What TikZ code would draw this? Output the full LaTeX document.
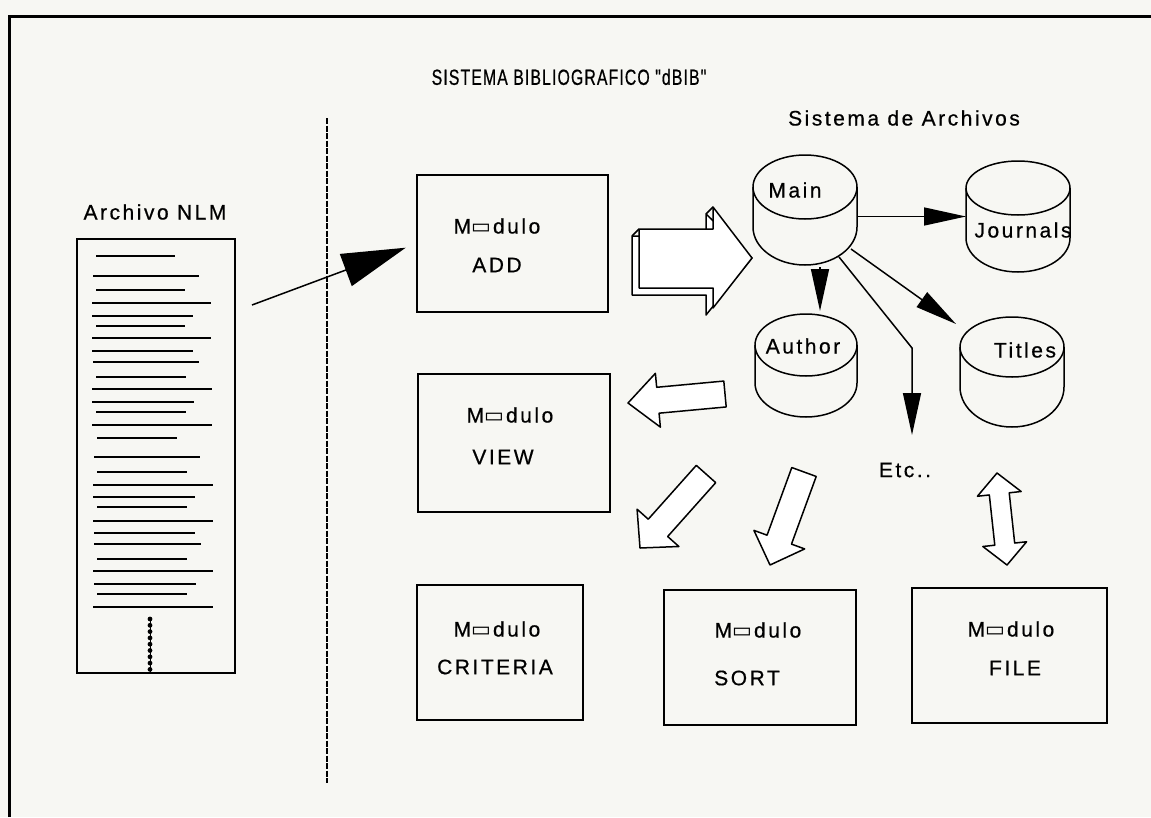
\documentclass[tikz,border=0pt]{standalone}
\usepackage{fontspec}
\setmainfont{Liberation Sans}[LetterSpace=12, FakeBold=0.6]
\newfontfamily\titlefont{Liberation Sans}[FakeStretch=0.72, LetterSpace=5, FakeBold=0.6]
\newfontfamily\dvfont{DejaVu Sans}
\usetikzlibrary{arrows.meta,calc}
\definecolor{paper}{RGB}{247,247,243}
\newcommand\Mo{M{\dvfont\symbol{"25AD}}\hspace{2pt}dulo}
\tikzset{
  shp/.style={line width=1.5pt, line join=round},
  boxnode/.style={draw, line width=1.6pt, inner sep=0pt, outer sep=0pt},
  lbl/.style={inner sep=0pt, font=\fontsize{21}{23}\selectfont},
  conn/.style={line width=1.5pt, -{Triangle[length=42pt,width=18pt]}},
  txtline/.style={line width=2.2pt},
  hollow/.style={shp, fill=white}
}
\newcommand\drawcyl[7]{%
  \pgfmathsetmacro\cyW{2*#5}\pgfmathsetmacro\cyH{#4-#3}\pgfmathsetmacro\cyM{(#3+#4)/2}%
  \node[inner sep=0pt,outer sep=0pt,minimum width=\cyW pt,minimum height=\cyH pt] (#1) at (#2,\cyM) {};
  \pgfmathsetmacro\cyA{#3+#6}\pgfmathsetmacro\cyB{#4-#7}%
  \draw[shp] (#2,\cyA) ellipse[x radius=#5, y radius=#6];
  \draw[shp] (#2-#5,\cyA) -- (#2-#5,\cyB) arc[start angle=180,end angle=0,x radius=#5,y radius=#7] -- (#2+#5,\cyA);
}
\newcommand\harrow[5]{%
  \coordinate (hB) at ($(#2)!#5!(#1)$);
  \draw[hollow] ($(#1)!#3!90:(#2)$) -- ($(hB)!#3!90:(#2)$) -- ($(hB)!#4!90:(#2)$) -- (#2)
    -- ($(hB)!#4!-90:(#2)$) -- ($(hB)!#3!-90:(#2)$) -- ($(#1)!#3!-90:(#2)$) -- cycle;
}
\newcommand\darrow[5]{%
  \coordinate (dB1) at ($(#1)!#5!(#2)$);
  \coordinate (dB2) at ($(#2)!#5!(#1)$);
  \draw[hollow] (#1) -- ($(dB1)!#4!90:(#2)$) -- ($(dB1)!#3!90:(#2)$) -- ($(dB2)!#3!-90:(#1)$)
    -- ($(dB2)!#4!-90:(#1)$) -- (#2) -- ($(dB2)!#4!90:(#1)$) -- ($(dB2)!#3!90:(#1)$)
    -- ($(dB1)!#3!-90:(#2)$) -- ($(dB1)!#4!-90:(#2)$) -- cycle;
}
\begin{document}
\begin{tikzpicture}[x=1pt,y=-1pt]
\useasboundingbox (0,0) rectangle (1151,817);
\fill[paper] (0,0) rectangle (1151,817);
% frame
\draw[line width=3pt] (9,817) -- (9,16) -- (1151,16);
% dashed divider
\draw[line width=1.5pt, dash pattern=on 6pt off 1.5pt] (327,118) -- (327,783);

% titles
\node[inner sep=0pt, font=\titlefont\fontsize{22}{24}\selectfont] (title) at (569,77) {SISTEMA BIBLIOGRAFICO "dBIB"};
\node[lbl] (sarch) at (904,118) {Sistema de Archivos};
\node[lbl] (anlm) at (155,212) {Archivo NLM};

% NLM file
\node[boxnode, minimum width=158pt, minimum height=434pt] (nlm) at (156,456) {};
\foreach \yy/\xa/\xb in {256/96/175, 276/93/199, 290/96/185, 303/92/211, 316/92/193, 326/96/185,
  338/92/211, 351/92/193, 362/93/199, 377/96/186, 389/92/212, 402/92/194, 412/96/186, 425/92/212,
  438/97/177, 457/94/200, 472/97/187, 485/93/213, 497/93/195, 507/97/187, 521/93/213, 533/94/195,
  544/94/201, 559/97/187, 571/93/213, 584/94/196, 594/97/187, 607/93/213}
  \draw[txtline] (\xa,\yy) -- (\xb,\yy);
\draw[line width=1pt] (150,618) -- (nlm.south -| 150,0);
\foreach \k in {0,...,8} \fill (150,{619+6.3*\k}) circle[radius=2.4pt];

% modules
\node[boxnode, minimum width=191pt, minimum height=137pt] (add) at (512.5,243.5) {};
\node[boxnode, minimum width=192pt, minimum height=138pt] (view) at (514,443) {};
\node[boxnode, minimum width=166pt, minimum height=135pt] (crit) at (500,652.5) {};
\node[boxnode, minimum width=192pt, minimum height=135pt] (sort) at (760,657.5) {};
\node[boxnode, minimum width=195pt, minimum height=135pt] (file) at (1009.5,655.5) {};

\node[lbl] (addm) at (497,226) {\Mo};
\node[lbl] (addn) at (497,265) {ADD};
\node[lbl] (viewm) at (510,415) {\Mo};
\node[lbl] (viewn) at (503,457) {VIEW};
\node[lbl] (critm) at (497,629) {\Mo};
\node[lbl] (critn) at (495,667) {CRITERIA};
\node[lbl] (sortm) at (758,630) {\Mo};
\node[lbl] (sortn) at (747,678) {SORT};
\node[lbl] (filem) at (1011,629) {\Mo};
\node[lbl] (filen) at (1015,668) {FILE};

% NLM -> ADD
\coordinate (nlmout) at (252,305);
\draw[line width=1.5pt, -{Triangle[length=64pt,width=34pt]}, shorten >=12pt] (nlmout) -- (add.west);

% 3D arrow ADD -> Main
\draw[hollow] (632,236) -- (706,236) -- (706,214) -- (752,258) -- (706,315) -- (706,295) -- (632,295) -- cycle;
\draw[hollow] (639,229) -- (713,229) -- (713,207) -- (752,258) -- (713,308) -- (713,288) -- (639,288) -- cycle;
\draw[shp] (639,229) -- (632,236);
\draw[shp] (713,207) -- (706,214);

% cylinders
\drawcyl{main}{805}{155}{265}{52}{32}{38}
\drawcyl{jour}{1018}{161}{272}{52}{27}{34}
\drawcyl{auth}{806}{314}{417}{51}{31}{34}
\drawcyl{titl}{1012}{317}{427}{52}{30}{40}
\node[lbl] (mainl) at (795,190) {Main};
\node[lbl] (jourl) at (1023,230) {Journals};
\node[lbl] (authl) at (803,346) {Author};
\node[lbl] (titll) at (1025,350) {Titles};
\node[lbl] (etc) at (905,470) {Etc..};

% connectors from Main
\draw[conn] (main.east |- jour.west) -- (jour.west);
\draw[conn] ($(main.south)+(15,2)$) -- ($(auth.north)+(14,-3)$);
\draw[conn] ($(main.south east)+(-6,-16)$) -- ($(titl.north west)+(-4,7)$);
\coordinate (etcbend) at (912,348);
\coordinate (etcend) at (912,435);
\draw[conn] ($(main.south)+(34,-8)$) -- (etcbend) -- (etcend);

% hollow arrows
\coordinate (vT) at (725,394); \coordinate (vP) at (628,403);
\harrow{vT}{vP}{13pt}{27pt}{30pt}
\coordinate (cT) at (706,474); \coordinate (cP) at (640,548);
\harrow{cT}{cP}{13pt}{28pt}{27pt}
\coordinate (sT) at (804,472); \coordinate (sP) at (770,565);
\harrow{sT}{sP}{13pt}{27pt}{27pt}
\coordinate (fA) at (997,473); \coordinate (fB) at (1007,565);
\darrow{fA}{fB}{10pt}{22pt}{21pt}
\end{tikzpicture}
\end{document}
